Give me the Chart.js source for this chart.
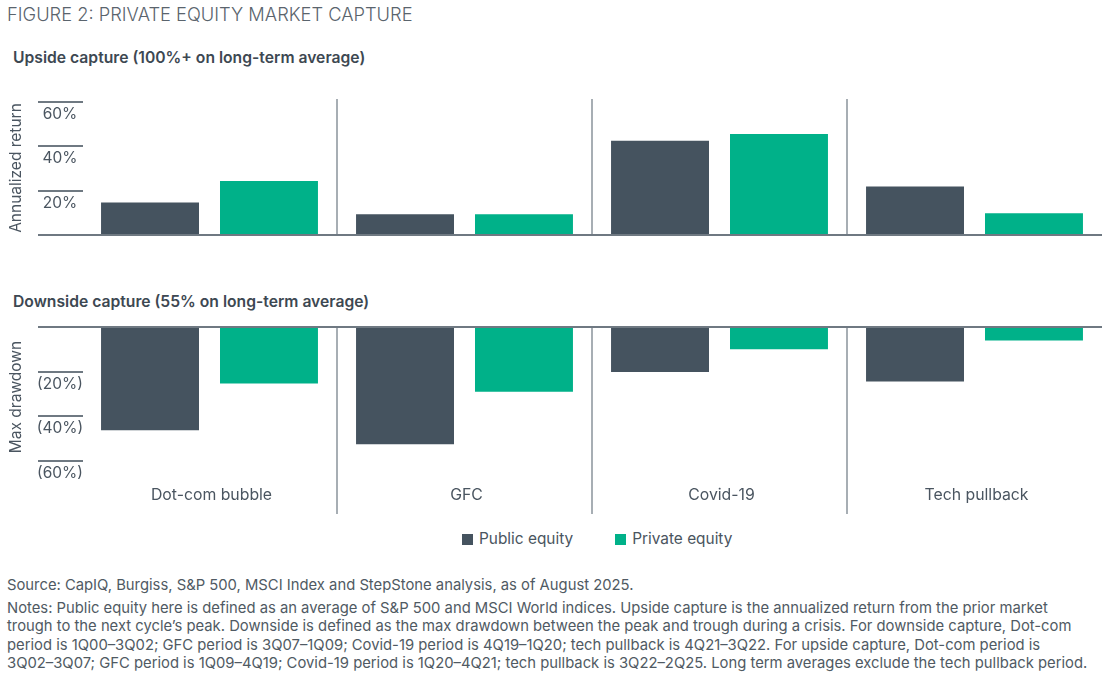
<!DOCTYPE html>
<html>
<head>
<meta charset="utf-8">
<script src="https://cdn.jsdelivr.net/npm/chart.js@4.4.1/dist/chart.umd.min.js"></script>
<style>
  html, body { margin: 0; padding: 0; background: #fff; }
  body { width: 1111px; height: 685px; position: relative; overflow: hidden;
         font-family: Inter, "Noto Sans", sans-serif; color: #4a5560; }
  .title { position: absolute; left: 7px; top: 3px; font-size: 18.3px; font-weight: 300;
           color: #5a646d; }
  .sub { position: absolute; left: 13px; font-size: 15.7px; font-weight: 600; color: #3d4852; }
  .box { position: absolute; left: 0; width: 1111px; }
  .legend { position: absolute; top: 529px; left: 462px; font-size: 15.4px; color: #4a5560; }
  .legend span.sw { display: inline-block; width: 11px; height: 11px; margin-right: 6px;
                    vertical-align: -1px; }
  .legend .item { display: inline-block; margin-right: 42px; }
  .notes { position: absolute; left: 7px; top: 576px; font-size: 14.8px; color: #505a63;
           line-height: 18.2px; }
  .notes p { margin: 0 0 5px 0; }
</style>
</head>
<body>
<div class="title">FIGURE 2: PRIVATE EQUITY MARKET CAPTURE</div>
<div class="sub" style="top:48px">Upside capture (100%+ on long-term average)</div>
<div class="box" style="top:90px;height:150px"><canvas id="chartUpside"></canvas></div>
<div class="sub" style="top:292px">Downside capture (55% on long-term average)</div>
<div class="box" style="top:320px;height:200px"><canvas id="chartDownside"></canvas></div>
<div class="legend">
  <span class="item"><span class="sw" style="background:#45535f"></span>Public equity</span><span class="item" style="margin-right:0"><span class="sw" style="background:#00b189"></span>Private equity</span>
</div>
<div class="notes">
  <p>Source: CapIQ, Burgiss, S&amp;P 500, MSCI Index and StepStone analysis, as of August 2025.</p>
  <p>Notes: Public equity here is defined as an average of S&amp;P 500 and MSCI World indices. Upside capture is the annualized return from the prior market<br>
  trough to the next cycle’s peak. Downside is defined as the max drawdown between the peak and trough during a crisis. For downside capture, Dot-com<br>
  period is 1Q00–3Q02; GFC period is 3Q07–1Q09; Covid-19 period is 4Q19–1Q20; tech pullback is 4Q21–3Q22. For upside capture, Dot-com period is<br>
  3Q02–3Q07; GFC period is 1Q09–4Q19; Covid-19 period is 1Q20–4Q21; tech pullback is 3Q22–2Q25. Long term averages exclude the tech pullback period.</p>
</div>

<script>
// --- Datos ---
const categories = ['Dot-com bubble', 'GFC', 'Covid-19', 'Tech pullback'];
const upsidePublic = [14.7, 9.3, 42.5, 21.9];
const upsidePrivate = [24.3, 9.3, 45.5, 9.8];
const downsidePublic = [-46.2, -52.4, -20.1, -24.4];
const downsidePrivate = [-25.3, -29.0, -10.0, -6.0];
const upsideTicks = [20, 40, 60];
const downsideTicks = [-20, -40, -60];

const colorPublic = '#45535f';
const colorPrivate = '#00b189';
const lineGray = '#6f7982';
const textGray = '#4a5560';

// --- Decoración: ejes, separadores, etiquetas ---
const decoPlugin = {
  id: 'deco',
  afterDatasetsDraw(chart, args, opts) {
    const ctx = chart.ctx;
    const area = chart.chartArea;
    const x = chart.scales.x;
    const y = chart.scales.y;
    ctx.save();

    // separadores verticales entre grupos
    ctx.strokeStyle = '#8a939b';
    ctx.lineWidth = 1.5;
    for (let i = 0; i < categories.length - 1; i++) {
      const sx = Math.round((x.getPixelForValue(i) + x.getPixelForValue(i + 1)) / 2);
      ctx.beginPath();
      ctx.moveTo(sx, area.top);
      ctx.lineTo(sx, area.bottom);
      ctx.stroke();
    }

    // línea base
    const y0 = y.getPixelForValue(0);
    ctx.strokeStyle = lineGray;
    ctx.lineWidth = 2;
    ctx.beginPath();
    ctx.moveTo(38, y0);
    ctx.lineTo(1102, y0);
    ctx.stroke();

    // ticks con etiqueta debajo
    ctx.font = '15.5px Inter, "Noto Sans", sans-serif';
    ctx.fillStyle = textGray;
    ctx.textAlign = 'center';
    ctx.textBaseline = 'middle';
    opts.ticks.forEach(v => {
      const ty = Math.round(y.getPixelForValue(v));
      ctx.beginPath();
      ctx.moveTo(38, ty);
      ctx.lineTo(83, ty);
      ctx.stroke();
      const lbl = v < 0 ? '(' + Math.abs(v) + '%)' : v + '%';
      ctx.fillText(lbl, 60, ty + 12);
    });

    // título del eje
    ctx.save();
    ctx.translate(16, opts.titleY);
    ctx.rotate(-Math.PI / 2);
    ctx.fillText(opts.title, 0, 0);
    ctx.restore();

    // etiquetas de categoría
    if (opts.showCats) {
      ctx.font = '15.8px Inter, "Noto Sans", sans-serif';
      categories.forEach((c, i) => {
        ctx.fillText(c, x.getPixelForValue(i) + 2, opts.catY);
      });
    }
    ctx.restore();
  }
};

function crearPanel(canvasId, pub, priv, min, max, padding, deco) {
  return new Chart(document.getElementById(canvasId), {
    type: 'bar',
    data: {
      labels: categories,
      datasets: [
        { label: 'Public equity', data: pub, backgroundColor: colorPublic,
          barPercentage: 0.8235, categoryPercentage: 0.933 },
        { label: 'Private equity', data: priv, backgroundColor: colorPrivate,
          barPercentage: 0.8235, categoryPercentage: 0.933 }
      ]
    },
    options: {
      responsive: true,
      maintainAspectRatio: false,
      animation: false,
      layout: { padding: padding },
      scales: {
        x: { display: false },
        y: { display: false, min: min, max: max }
      },
      plugins: {
        legend: { display: false },
        tooltip: { enabled: false },
        deco: deco
      }
    },
    plugins: [decoPlugin]
  });
}

crearPanel('chartUpside', upsidePublic, upsidePrivate, 0, 61.3,
  { left: 82, right: 9, top: 9, bottom: 5 },
  { ticks: upsideTicks, title: 'Annualized return', titleY: 78, showCats: false });

crearPanel('chartDownside', downsidePublic, downsidePrivate, -83.6, 0,
  { left: 82, right: 9, top: 7, bottom: 6 },
  { ticks: downsideTicks, title: 'Max drawdown', titleY: 77, showCats: true, catY: 175 });
</script>
</body>
</html>
